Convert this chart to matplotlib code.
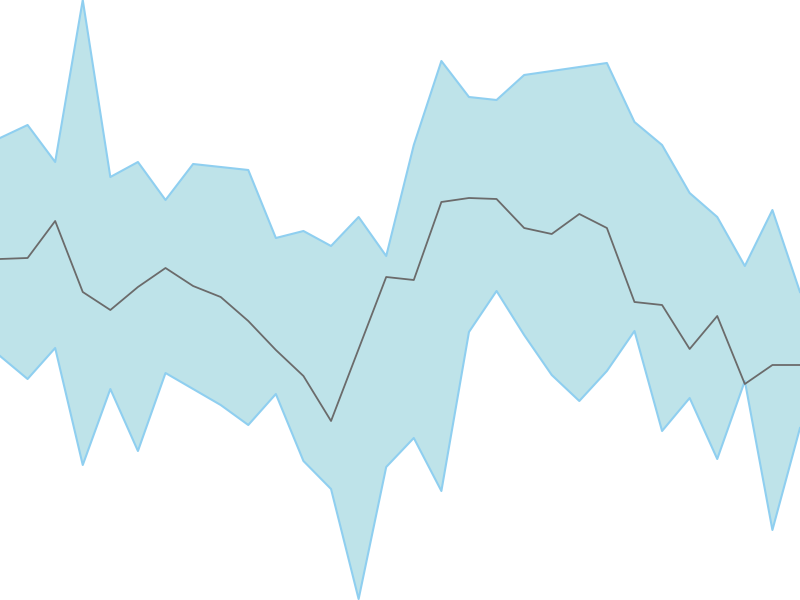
import matplotlib
matplotlib.use("Agg")
import matplotlib.pyplot as plt
import numpy as np

# values (pixel rows flipped so higher = larger)
upper = [462, 475, 438, 600, 423, 438, 400, 436, 433, 430,
         362, 369, 354, 383, 344, 455, 539, 503, 500, 525,
         529, 533, 537, 478, 455, 407, 383, 334, 390, 308]
lower = [244, 221, 252, 135, 211, 149, 227, 211, 195, 175,
         206, 139, 111, 1, 133, 162, 109, 268, 309, 265,
         225, 199, 229, 269, 169, 202, 141, 219, 70, 172]
middle = [341, 342, 379, 308, 290, 313, 332, 314, 303, 279,
          250, 224, 179, 251, 323, 320, 398, 402, 401, 372,
          366, 386, 372, 298, 295, 251, 284, 216, 235, 235]

x = np.arange(len(middle))

fig = plt.figure(figsize=(8, 6), dpi=100)
ax = fig.add_axes([0, 0, 1, 1])
ax.fill_between(x, lower, upper, color="#bee3e9", linewidth=0)
ax.plot(x, upper, color="#8fcff0", linewidth=1.5)
ax.plot(x, lower, color="#8fcff0", linewidth=1.5)
ax.plot(x, middle, color="#6b6b6b", linewidth=1.3)
ax.set_xlim(0, len(middle) - 1)
ax.set_ylim(0, 600)
ax.axis("off")

fig.savefig("out.png", dpi=100)
